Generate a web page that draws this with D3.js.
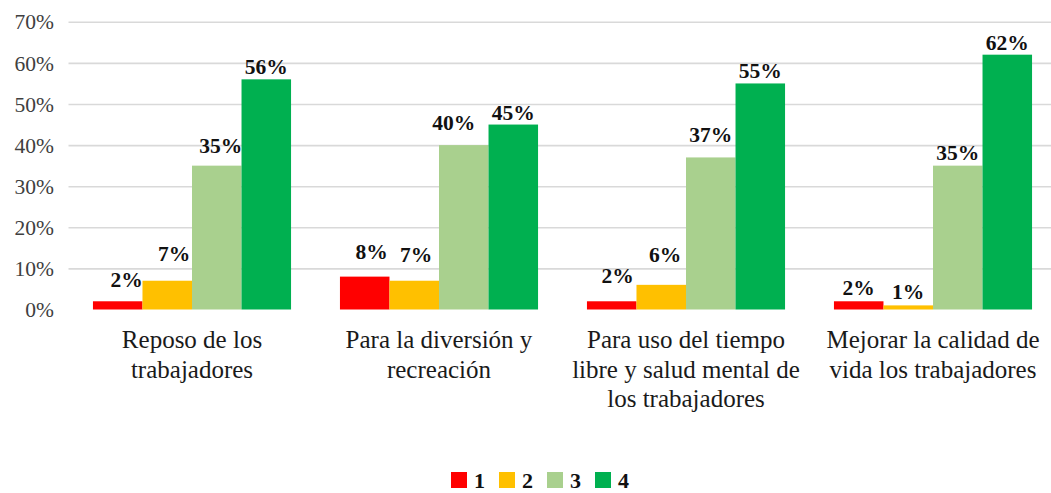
<!DOCTYPE html>
<html>
<head>
<meta charset="utf-8">
<script src="https://cdn.jsdelivr.net/npm/d3@7"></script>
<style>
  html, body { margin: 0; padding: 0; background: #fff; }
  svg { display: block; }
</style>
</head>
<body>
<svg id="chart" width="1051" height="493"></svg>
<script>
// Categories (each label split into its display lines)
const categories = [
  "Reposo de los trabajadores",
  "Para la diversión y recreación",
  "Para uso del tiempo libre y salud mental de los trabajadores",
  "Mejorar la calidad de vida los trabajadores"
];
const categoryLines = [
  ["Reposo de los", "trabajadores"],
  ["Para la diversión y", "recreación"],
  ["Para uso del tiempo", "libre y salud mental de", "los trabajadores"],
  ["Mejorar la calidad de", "vida los trabajadores"]
];

// Series (rating 1–4), share of responses per category
const seriesNames = ["1", "2", "3", "4"];
const series1 = [0.02, 0.08, 0.02, 0.02];
const series2 = [0.07, 0.07, 0.06, 0.01];
const series3 = [0.35, 0.40, 0.37, 0.35];
const series4 = [0.56, 0.45, 0.55, 0.62];
const seriesColors = ["#FF0000", "#FFC000", "#A9D08E", "#00B050"];

// Y axis ticks
const yTicks = [0, 0.1, 0.2, 0.3, 0.4, 0.5, 0.6, 0.7];

// Hand-placed nudges [dx, dy] for the value labels, per series then category
const labelNudge = [
  [[9, -9], [7, -13], [6, -13], [0, -1]],
  [[7, -15], [2, -14], [4, -18], [0, -1]],
  [[4, -8], [-10, -10], [0, -10], [0, -1]],
  [[0, 0], [0, 0], [0, 0], [0, 0]]
];

const FONT = "'Liberation Serif', 'Times New Roman', Tinos, serif";
const seriesValues = [series1, series2, series3, series4];
const svg = d3.select("#chart");
const W = 1051;

const left = 68.5, right = 1056.5, y0 = 309.5, yTop = 21.8;

const x0 = d3.scaleBand()
  .domain(categories)
  .range([left, right])
  .paddingInner(0.198)
  .paddingOuter(0.099);

const x1 = d3.scaleBand()
  .domain(seriesNames)
  .range([0, x0.bandwidth()]);

const y = d3.scaleLinear().domain([0, 0.7]).range([y0, yTop]);

// Gridlines
const grid = svg.append("g")
  .attr("transform", `translate(${left},0)`)
  .call(d3.axisLeft(y).tickValues(yTicks.filter(t => t > 0)).tickSize(-(W - left)).tickFormat(""));
grid.select(".domain").remove();
grid.selectAll("line").attr("stroke", "#d9d9d9").attr("stroke-width", 1.6);

// Y axis labels
const yAxis = svg.append("g")
  .attr("transform", `translate(${left},0)`)
  .call(d3.axisLeft(y).tickValues(yTicks).tickSize(0).tickPadding(14.5).tickFormat(d3.format(".0%")));
yAxis.select(".domain").remove();
yAxis.selectAll("text")
  .style("font-family", FONT)
  .style("font-size", "21.5px")
  .attr("fill", "#404040")
  .attr("dy", "0.33em");

// Bars
const groups = svg.append("g").selectAll("g")
  .data(categories)
  .join("g")
  .attr("transform", d => `translate(${x0(d)},0)`);

groups.each(function (cat, ci) {
  const g = d3.select(this);
  const rows = seriesNames.map((s, si) => ({ s, si, v: seriesValues[si][ci] }));
  g.selectAll("rect")
    .data(rows)
    .join("rect")
    .attr("x", d => x1(d.s))
    .attr("y", d => y(d.v))
    .attr("width", x1.bandwidth())
    .attr("height", d => y0 - y(d.v))
    .attr("fill", d => seriesColors[d.si]);

  g.selectAll("text")
    .data(rows)
    .join("text")
    .attr("x", d => x1(d.s) + x1.bandwidth() / 2 + labelNudge[d.si][ci][0])
    .attr("y", d => y(d.v) - 5 + labelNudge[d.si][ci][1])
    .attr("text-anchor", "middle")
    .style("font-family", FONT)
    .style("font-size", "21.5px")
    .style("font-weight", "bold")
    .attr("fill", "#111")
    .text(d => d3.format(".0%")(d.v));
});

// Category labels
const catG = svg.append("g");
categories.forEach((cat, ci) => {
  const cx = x0(cat) + x0.bandwidth() / 2;
  categoryLines[ci].forEach((line, li) => {
    catG.append("text")
      .attr("x", cx)
      .attr("y", y0 + 38.5 + li * 29.5)
      .attr("text-anchor", "middle")
      .style("font-family", FONT)
      .style("font-size", "25px")
      .attr("fill", "#1a1a1a")
      .text(line);
  });
});

// Legend
const legend = svg.append("g").attr("transform", "translate(451,472)");
const item = legend.selectAll("g")
  .data(seriesNames)
  .join("g")
  .attr("transform", (d, i) => `translate(${i * 48},0)`);
item.append("rect")
  .attr("width", 16).attr("height", 16)
  .attr("fill", (d, i) => seriesColors[i]);
item.append("text")
  .attr("x", 23)
  .attr("y", 16)
  .style("font-family", FONT)
  .style("font-size", "22px")
  .style("font-weight", "bold")
  .attr("fill", "#111")
  .text(d => d);
</script>
</body>
</html>
